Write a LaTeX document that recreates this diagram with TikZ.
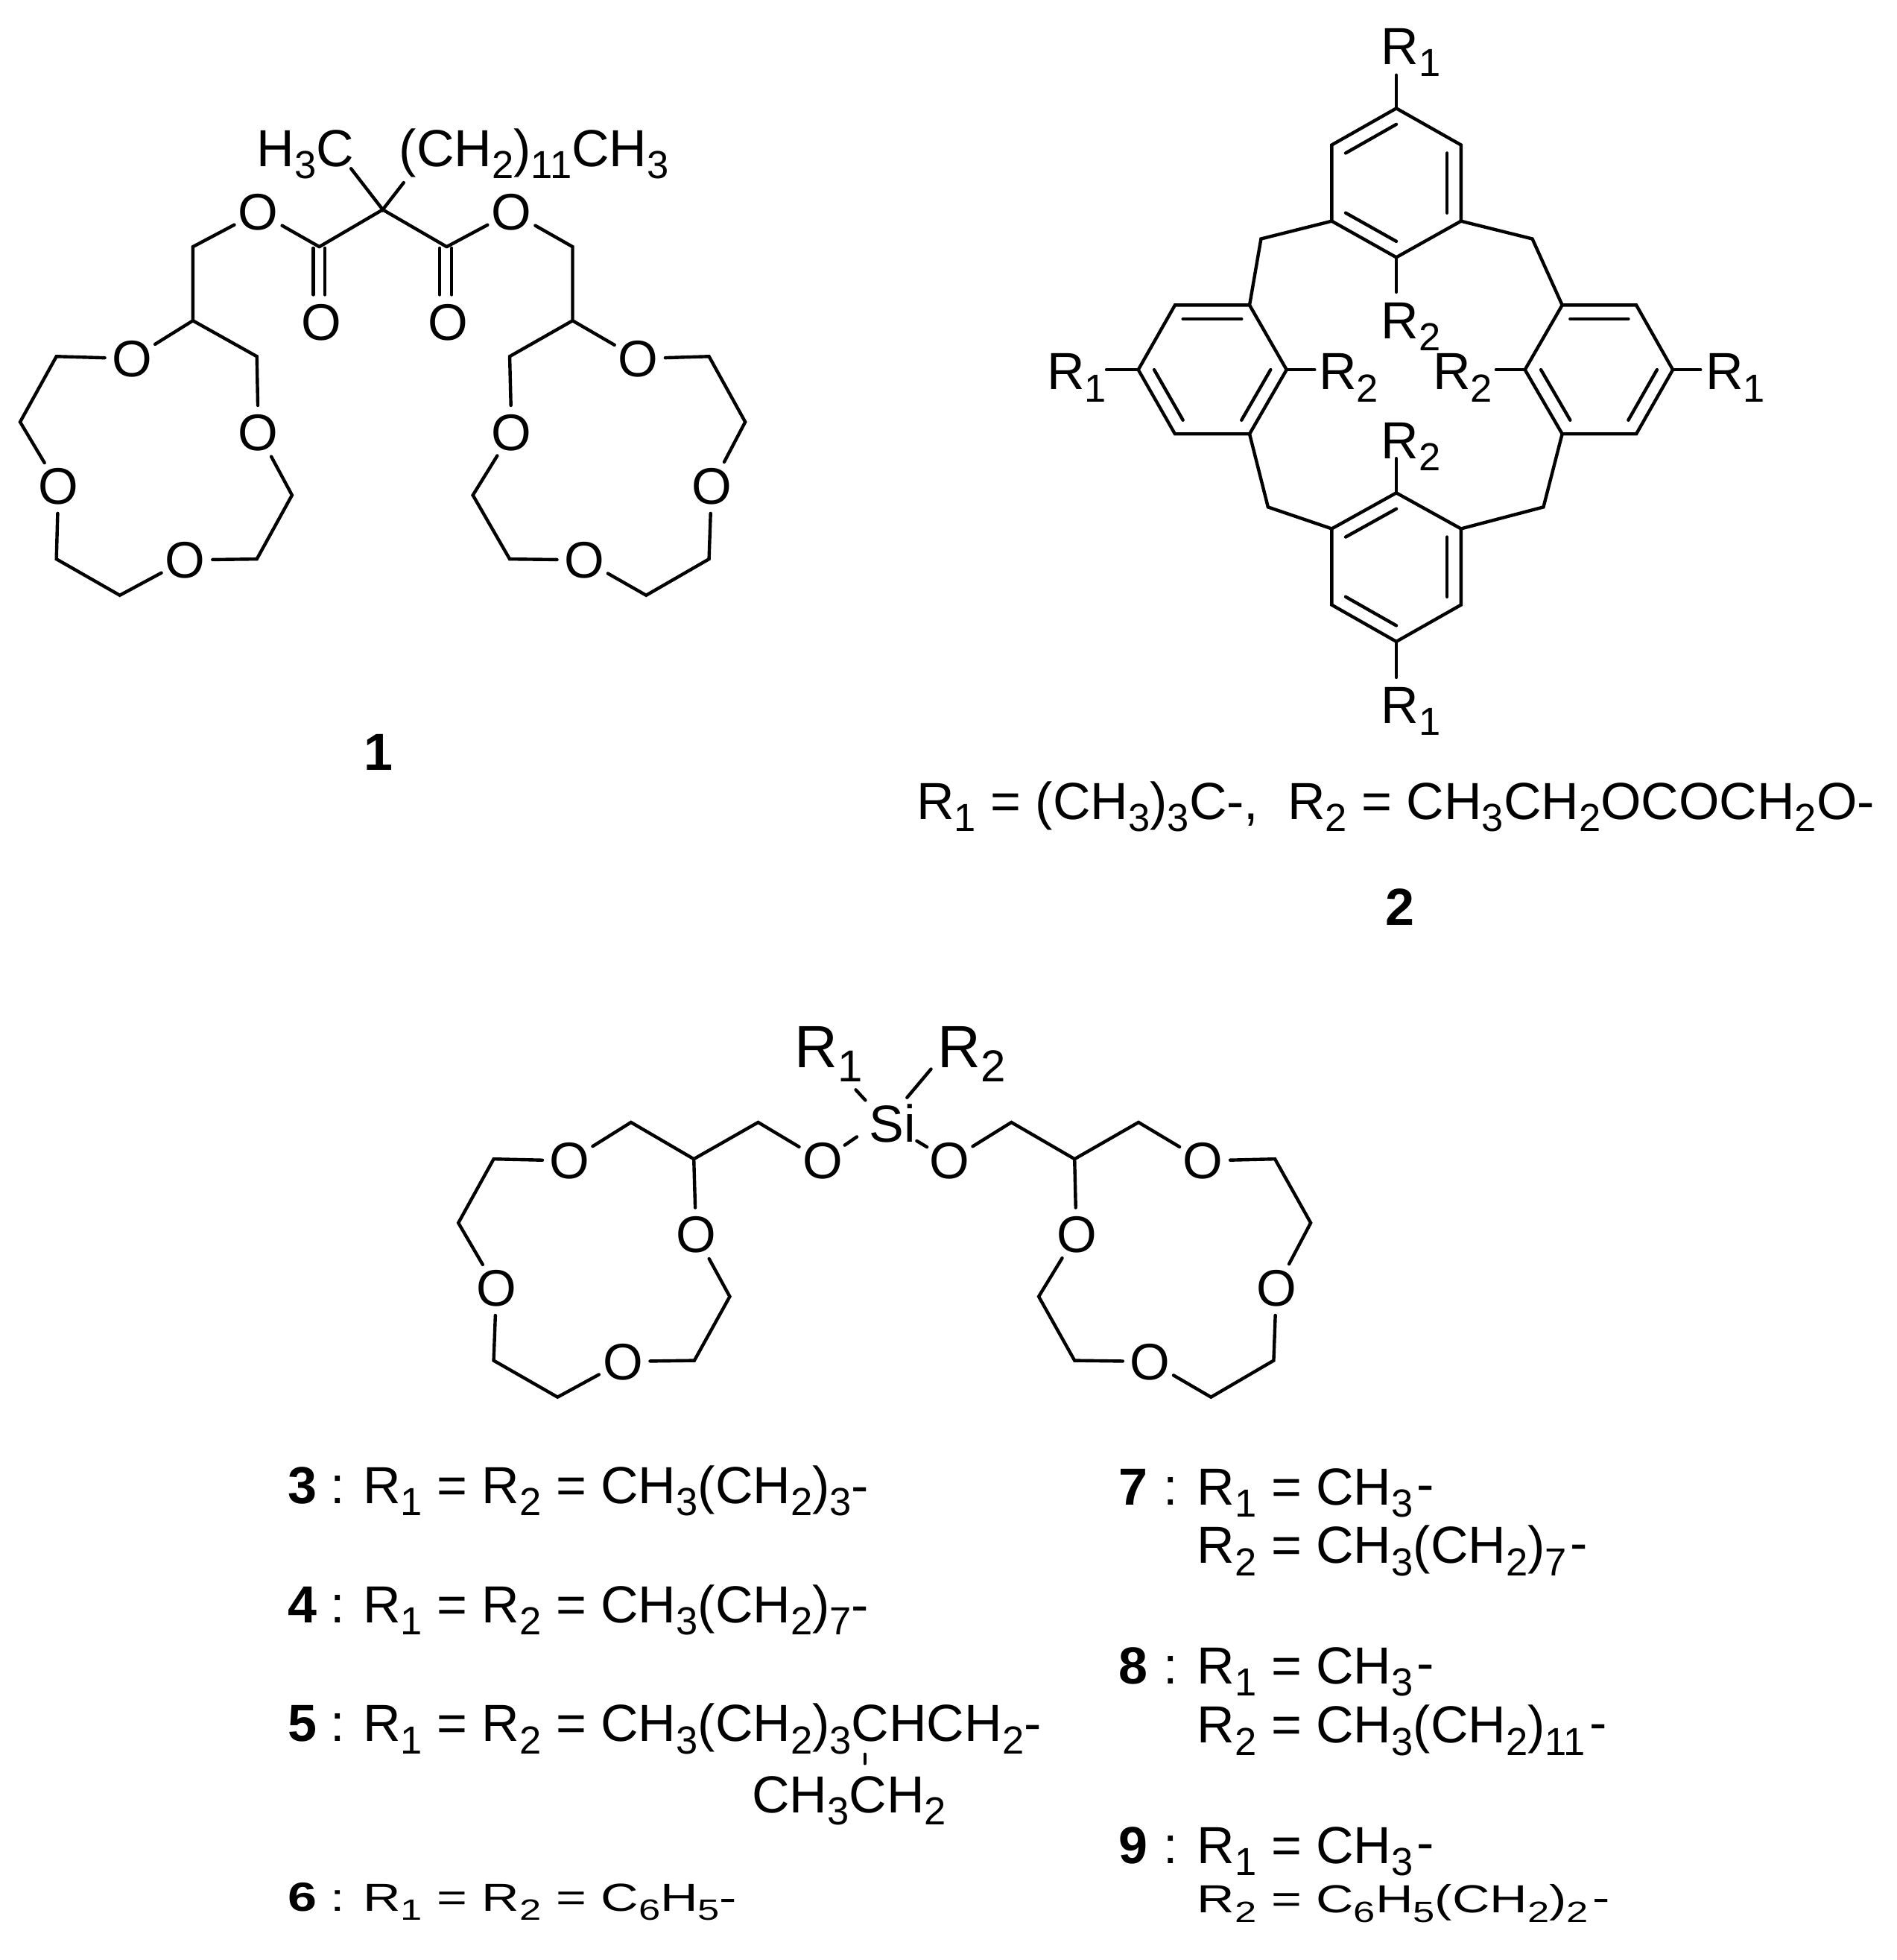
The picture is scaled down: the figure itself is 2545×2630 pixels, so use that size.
\documentclass[tikz,border=0pt]{standalone}
\usepackage{fontspec}
\usepackage{graphicx}
\setmainfont{Liberation Sans}
\usetikzlibrary{calc}
\newcommand\sbs[1]{\raisebox{-0.235em}{\scalebox{0.75}{#1}}}
\newcommand\hy{\kern 2.5pt\raisebox{.05em}{-}}
\newcommand\inbond[3]{\draw[bond] ($(#1)!.215!(#3)$) -- ($(#2)!.215!(#3)$);}
\tikzset{
  bond/.style={line width=2.2pt,line cap=round,line join=miter,black},
  atom/.style={circle,inner sep=0pt,minimum size=36pt,font=\fontsize{34.5}{40}\selectfont},
  lab/.style={anchor=base west,inner sep=0pt,font=\fontsize{35}{40}\selectfont},
  bigl/.style={anchor=base west,inner sep=0pt,font=\fontsize{40}{44}\selectfont},
  num/.style={anchor=base west,inner sep=0pt,font=\fontsize{35}{40}\selectfont\bfseries},
  numc/.style={anchor=base,inner sep=0pt,font=\fontsize{35}{40}\selectfont\bfseries},
  zfix/.style 2 args={shift={(#1,#2)},scale=.99235,shift={(-#1,-#2)}}
}
\begin{document}
\begin{tikzpicture}[x=0.5pt,y=-0.5pt]
\useasboundingbox (0,0) rectangle (2545,2630);
% ===== compound 1 =====
\begin{scope}[zfix={0}{130}]
\coordinate (q) at (517.7,282.5);
\coordinate (cl) at (431.9,332.7);
\coordinate (cr) at (604.2,332.7);
\coordinate (meend) at (474.8,227);
\coordinate (chend) at (546,246);
\node[lab] (h3c) at (346.8,223.8) {H\sbs{3}C};
\node[lab] (chain) at (539.6,223.8) {(CH\sbs{2})\sbs{11}CH\sbs{3}};
\node[atom] (oel) at (349.5,285.8) {O};
\node[atom] (oer) at (692,285.8) {O};
\node[atom] (odl) at (434.6,435) {O};
\node[atom] (odr) at (606.3,435) {O};
\coordinate (dl1a) at (423.7,334.5);
\coordinate (dl1b) at (423.7,397.5);
\coordinate (dl2a) at (439.4,334.5);
\coordinate (dl2b) at (439.4,397.5);
\coordinate (dr1a) at (594.7,334.5);
\coordinate (dr1b) at (594.7,397.5);
\coordinate (dr2a) at (611,334.5);
\coordinate (dr2b) at (611,397.5);
\coordinate (al1) at (260.9,332.7);
\coordinate (al2) at (260.9,432.6);
\coordinate (al3) at (347.4,481);
\node[atom] (al4) at (349.5,584) {O};
\coordinate (al5) at (395,668.6);
\coordinate (al6) at (347.4,755);
\node[atom] (al7) at (250.7,756.3) {O};
\coordinate (al8) at (162,804);
\coordinate (al9) at (76.3,755);
\node[atom] (al10) at (79,656.4) {O};
\coordinate (al11) at (27.2,569.6);
\coordinate (al12) at (76.3,481);
\node[atom] (al13) at (178.5,484) {O};
\coordinate (ar1) at (774.5,332.7);
\coordinate (ar2) at (774.5,432.6);
\coordinate (ar3) at (689.4,481);
\node[atom] (ar4) at (692,584) {O};
\coordinate (ar5) at (639.6,668.6);
\coordinate (ar6) at (689.4,755);
\node[atom] (ar7) at (790.2,756.3) {O};
\coordinate (ar8) at (874,804);
\coordinate (ar9) at (959,755);
\node[atom] (ar10) at (962.5,656.4) {O};
\coordinate (ar11) at (1008,569.6);
\coordinate (ar12) at (959,481);
\node[atom] (ar13) at (863,484) {O};
\draw[bond] (meend) -- (q) -- (chend);
\draw[bond] (cl) -- (q) -- (cr);
\draw[bond] (oel) -- (cl);
\draw[bond] (oer) -- (cr);
\draw[bond] (dl1a) -- (dl1b);
\draw[bond] (dl2a) -- (dl2b);
\draw[bond] (dr1a) -- (dr1b);
\draw[bond] (dr2a) -- (dr2b);
\draw[bond] (oel) -- (al1) -- (al2) -- (al3) -- (al4) -- (al5) -- (al6) -- (al7) -- (al8) -- (al9) -- (al10) -- (al11) -- (al12) -- (al13) -- (al2);
\draw[bond] (oer) -- (ar1) -- (ar2) -- (ar3) -- (ar4) -- (ar5) -- (ar6) -- (ar7) -- (ar8) -- (ar9) -- (ar10) -- (ar11) -- (ar12) -- (ar13) -- (ar2);
\end{scope}
\node[numc] (n1) at (508,1033) {1};
% ===== compound 2 =====
\begin{scope}[zfix={1380}{0}]
\coordinate (ta) at (1878,146.5);
\coordinate (tb) at (1965.5,196);
\coordinate (tc) at (1965.5,299);
\coordinate (td) at (1878,348);
\coordinate (te) at (1790.7,299);
\coordinate (tf) at (1790.7,196);
\coordinate (tm) at (1878,247.3);
\coordinate (ba) at (1878,666.5);
\coordinate (bb) at (1965.5,715);
\coordinate (bc) at (1965.5,818);
\coordinate (bd) at (1878,867.6);
\coordinate (be) at (1790.7,818);
\coordinate (bf) at (1790.7,715);
\coordinate (bm) at (1878,767);
\coordinate (la) at (1529,500);
\coordinate (lb) at (1578.6,412.6);
\coordinate (lc) at (1679.5,412.6);
\coordinate (ld) at (1729.6,500);
\coordinate (le) at (1679.5,586.8);
\coordinate (lf) at (1578.6,586.8);
\coordinate (lm) at (1629,500);
\coordinate (ra) at (2052,500);
\coordinate (rb) at (2102.4,412.6);
\coordinate (rc) at (2202.6,412.6);
\coordinate (rd) at (2252,500);
\coordinate (re) at (2202.6,586.8);
\coordinate (rf) at (2102.4,586.8);
\coordinate (rm) at (2152.5,500);
\coordinate (m1) at (1695,323);
\coordinate (m2) at (2062,323);
\coordinate (m3) at (1704.5,685.7);
\coordinate (m4) at (2077,685.7);
\draw[bond] (ta) -- (tb) -- (tc) -- (td) -- (te) -- (tf) -- cycle;
\draw[bond] (ba) -- (bb) -- (bc) -- (bd) -- (be) -- (bf) -- cycle;
\draw[bond] (la) -- (lb) -- (lc) -- (ld) -- (le) -- (lf) -- cycle;
\draw[bond] (ra) -- (rb) -- (rc) -- (rd) -- (re) -- (rf) -- cycle;
\inbond{ta}{tf}{tm}\inbond{tb}{tc}{tm}\inbond{td}{te}{tm}
\inbond{ba}{bf}{bm}\inbond{bb}{bc}{bm}\inbond{bd}{be}{bm}
\inbond{lb}{lc}{lm}\inbond{ld}{le}{lm}\inbond{la}{lf}{lm}
\inbond{rb}{rc}{rm}\inbond{ra}{rf}{rm}\inbond{rd}{re}{rm}
\draw[bond] (te) -- (m1) -- (lc);
\draw[bond] (tc) -- (m2) -- (rb);
\draw[bond] (le) -- (m3) -- (bf);
\draw[bond] (rf) -- (m4) -- (bb);
\node[lab] (r1t) at (1857,87) {R\sbs{1}};
\node[lab] (r2t) at (1857,457.6) {R\sbs{2}};
\node[lab] (r1l) at (1405,527) {R\sbs{1}};
\node[lab] (r2l) at (1773,527) {R\sbs{2}};
\node[lab] (r2r) at (1927,527) {R\sbs{2}};
\node[lab] (r1r) at (2296,527) {R\sbs{1}};
\node[lab] (r2b) at (1857,620) {R\sbs{2}};
\node[lab] (r1b) at (1857,978) {R\sbs{1}};
\coordinate (e1) at (1878,101.5);
\coordinate (e2) at (1878,395);
\coordinate (e3) at (1486,500);
\coordinate (e4) at (1767.5,500);
\coordinate (e5) at (2013,500);
\coordinate (e6) at (2289.4,500);
\coordinate (e7) at (1878,620);
\coordinate (e8) at (1878,916);
\draw[bond] (ta) -- (e1);
\draw[bond] (td) -- (e2);
\draw[bond] (la) -- (e3);
\draw[bond] (ld) -- (e4);
\draw[bond] (ra) -- (e5);
\draw[bond] (rd) -- (e6);
\draw[bond] (ba) -- (e7);
\draw[bond] (bd) -- (e8);
\end{scope}
\node[lab] (def2) at (1230,1099) {R\sbs{1} = (CH\sbs{3})\sbs{3}C-,\ \ R\sbs{2} = CH\sbs{3}CH\sbs{2}OCOCH\sbs{2}O-};
\node[numc] (n2) at (1879,1241) {2};
% ===== silane =====
\begin{scope}[zfix={580}{1340}]
\node[lab] (si) at (1170.5,1534) {Si};
\node[bigl] (sr1) at (1069.7,1433) {R\sbs{1}};
\node[bigl] (sr2) at (1263.2,1433) {R\sbs{2}};
\coordinate (sa1) at (1153,1463.4);
\coordinate (sa2) at (1166,1477.5);
\coordinate (sb1) at (1254.8,1435.4);
\coordinate (sb2) at (1222.4,1473.9);
\coordinate (sc) at (1154.5,1527);
\coordinate (sd) at (1249.4,1540.8);
\node[atom] (ol0) at (1108,1559.5) {O};
\node[atom] (or0) at (1280,1559.5) {O};
\coordinate (sd2) at (1235.5,1532.5);
\draw[bond] (sa1) -- (sa2);
\draw[bond] (sb1) -- (sb2);
\draw[bond] (ol0) -- (sc);
\draw[bond] (sd) -- (sd2);
\coordinate (sl1) at (1021,1507.4);
\coordinate (sl2) at (934,1557);
\coordinate (sl3) at (849,1507.4);
\node[atom] (sl4) at (766,1559.5) {O};
\coordinate (sl5) at (663.3,1557);
\coordinate (sl6) at (615.5,1643.4);
\node[atom] (sl7) at (667,1731.6) {O};
\coordinate (sl8) at (663.3,1829.5);
\coordinate (sl9) at (749.7,1879);
\node[atom] (sl10) at (838,1831) {O};
\coordinate (sl11) at (934.7,1829.5);
\coordinate (sl12) at (982.6,1743);
\node[atom] (sl13) at (937,1659.6) {O};
\coordinate (sr11) at (1363.5,1507.4);
\coordinate (sr12) at (1449,1557);
\coordinate (sr13) at (1535.5,1507.4);
\node[atom] (sr14) at (1622.6,1559.5) {O};
\coordinate (sr15) at (1720,1557);
\coordinate (sr16) at (1768.4,1643.4);
\node[atom] (sr17) at (1722,1731.6) {O};
\coordinate (sr18) at (1718.3,1829.5);
\coordinate (sr19) at (1633.5,1879);
\node[atom] (sr110) at (1551,1831) {O};
\coordinate (sr111) at (1449,1829.5);
\coordinate (sr112) at (1400.5,1743);
\node[atom] (sr113) at (1451.5,1659.6) {O};
\draw[bond] (ol0) -- (sl1) -- (sl2) -- (sl3) -- (sl4) -- (sl5) -- (sl6) -- (sl7) -- (sl8) -- (sl9) -- (sl10) -- (sl11) -- (sl12) -- (sl13) -- (sl2);
\draw[bond] (or0) -- (sr11) -- (sr12) -- (sr13) -- (sr14) -- (sr15) -- (sr16) -- (sr17) -- (sr18) -- (sr19) -- (sr110) -- (sr111) -- (sr112) -- (sr113) -- (sr12);
\end{scope}
% ===== left table =====
\begin{scope}[zfix={360}{1920}]
\node[num] (n3) at (386.2,2018) {3};
\node[lab] (c3) at (443.6,2018) {:};
\node[lab] (t3) at (488,2018) {R\sbs{1} = R\sbs{2} = CH\sbs{3}(CH\sbs{2})\sbs{3}-};
\node[num] (n4) at (386.2,2179) {4};
\node[lab] (c4) at (443.6,2179) {:};
\node[lab] (t4) at (488,2179) {R\sbs{1} = R\sbs{2} = CH\sbs{3}(CH\sbs{2})\sbs{7}-};
\node[num] (n5) at (386.2,2340) {5};
\node[lab] (c5) at (443.6,2340) {:};
\node[lab] (t5) at (488,2340) {R\sbs{1} = R\sbs{2} = CH\sbs{3}(CH\sbs{2})\sbs{3}CHCH\sbs{2}-};
\node[lab] (t5b) at (1014,2436) {CH\sbs{3}CH\sbs{2}};
\coordinate (tk1) at (1167,2357.4);
\coordinate (tk2) at (1167,2370);
\draw[bond] (tk1) -- (tk2);
\node[num] (n6) at (386.2,2569) {\scalebox{1}[.78]{6}};
\node[lab] (c6) at (443.6,2569) {\scalebox{1}[.75]{:}};
\node[lab] (t6) at (488,2569) {\scalebox{1}[.75]{R\sbs{1} = R\sbs{2} = C\sbs{6}H\sbs{5}-}};
\end{scope}
% ===== right table =====
\begin{scope}[zfix={1460}{1920}]
\node[num] (n7) at (1501,2020) {7};
\node[lab] (c7) at (1561.8,2020) {:};
\node[lab] (t7a) at (1607.6,2020) {R\sbs{1} = CH\sbs{3}\hy};
\node[lab] (t7b) at (1607.6,2099) {R\sbs{2} = CH\sbs{3}(CH\sbs{2})\sbs{7}\hy};
\node[num] (n8) at (1501,2262) {8};
\node[lab] (c8) at (1561.8,2262) {:};
\node[lab] (t8a) at (1607.6,2262) {R\sbs{1} = CH\sbs{3}\hy};
\node[lab] (t8b) at (1607.6,2342) {R\sbs{2} = CH\sbs{3}(CH\sbs{2})\sbs{11}\hy};
\node[num] (n9) at (1501,2504.5) {9};
\node[lab] (c9) at (1561.8,2504.5) {:};
\node[lab] (t9a) at (1607.6,2504.5) {R\sbs{1} = CH\sbs{3}\hy};
\node[lab] (t9b) at (1607.6,2571.7) {\scalebox{1}[.75]{R\sbs{2} = C\sbs{6}H\sbs{5}(CH\sbs{2})\sbs{2}\hy}};
\end{scope}
\end{tikzpicture}
\end{document}
